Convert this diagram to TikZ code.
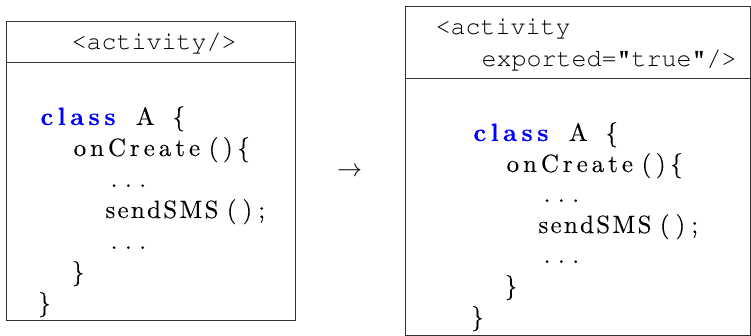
\documentclass[tikz,border=0pt]{standalone}
\usepackage[T1]{fontenc}
\usepackage{fontspec}
\usepackage{xcolor}
\newfontfamily\codefam{Latin Modern Roman}[FakeBold=0.2]
\newlength\colw
\setlength\colw{6.72pt}
\ExplSyntaxOn
% one listings-like unit: n columns, characters spread with equal glue
\NewDocumentCommand\fu{O{}m}{\hbox_to_wd:nn {\tl_count:n {#2}\colw}{#1\hss\tl_map_inline:nn {#2}{##1\hss}}}
\ExplSyntaxOff
\newcommand\codefont{\codefam\fontsize{10}{12}\selectfont}
\newcommand\hdrfont{\fontencoding{T1}\fontfamily{pcr}\fontsize{25}{31}\selectfont}
\newcommand\kwstyle{\bfseries\color{blue}}
\tikzset{
  boxframe/.style={draw=black!80, line width=0.9pt, inner sep=0pt, anchor=north west},
  rule/.style={draw=black!80, line width=0.9pt},
  codeline/.style={inner sep=0pt, anchor=base west, font=\codefont, scale=2.5, transform shape},
  hdr/.style={inner sep=0pt, anchor=base west, font=\hdrfont},
}
\begin{document}
\begin{tikzpicture}[x=1pt,y=-1pt]
\useasboundingbox (0,0) rectangle (751,336);
% left box
\node[boxframe, minimum width=289pt, minimum height=299pt] (lbox) at (6,21) {};
\coordinate (lh1) at (6,62);
\coordinate (lh2) at (295,62);
\draw[rule] (lh1) -- (lh2);
\node[hdr] (lhead) at (71.5,50) {<activity/>};
\node[codeline] (l1) at (35.6,125) {\fu[\kwstyle]{class}\fu{~}\fu{A}\fu{~}\fu{\{}};
\node[codeline] (l2) at (69.2,156) {\fu{onCreate}\fu{()\{}};
\node[codeline] (l3) at (102.7,187) {\fu{...}};
\node[codeline] (l4) at (102.7,218) {\fu{sendSMS}\fu{();}};
\node[codeline] (l5) at (102.7,249) {\fu{...}};
\node[codeline] (l6) at (69.2,280) {\fu{\}}};
\node[codeline] (l7) at (35.6,311) {\fu{\}}};
% arrow
\node[codeline, anchor=base] (arr) at (349.5,177) {$\rightarrow$};
% right box
\node[boxframe, minimum width=345pt, minimum height=329pt] (rbox) at (405,6) {};
\coordinate (rh1) at (405,78);
\coordinate (rh2) at (750,78);
\draw[rule] (rh1) -- (rh2);
\node[hdr] (rhead1) at (435.5,35) {<activity};
\node[hdr] (rhead2) at (481.5,67) {exported="true"/>};
\node[codeline] (r1) at (468.5,141) {\fu[\kwstyle]{class}\fu{~}\fu{A}\fu{~}\fu{\{}};
\node[codeline] (r2) at (502.1,172) {\fu{onCreate}\fu{()\{}};
\node[codeline] (r3) at (535.7,202) {\fu{...}};
\node[codeline] (r4) at (535.7,233) {\fu{sendSMS}\fu{();}};
\node[codeline] (r5) at (535.7,263) {\fu{...}};
\node[codeline] (r6) at (502.1,294) {\fu{\}}};
\node[codeline] (r7) at (468.5,325) {\fu{\}}};
\end{tikzpicture}
\end{document}
